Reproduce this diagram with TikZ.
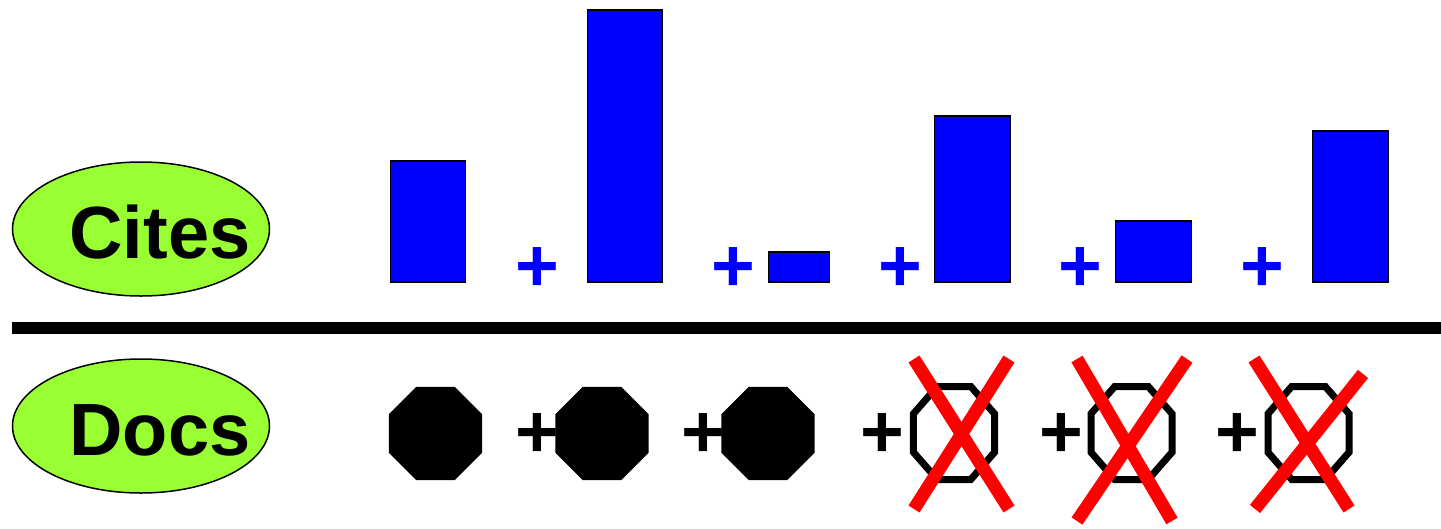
\documentclass[tikz,border=0pt]{standalone}
\usepackage{fontspec}
\setmainfont{Liberation Sans}
\usepackage{xcolor}
\definecolor{TagGreen}{HTML}{99FF33}
\definecolor{BarBlue}{HTML}{0000FF}
\definecolor{StrikeRed}{HTML}{FF0000}
\usetikzlibrary{shapes.geometric}
\tikzset{
  tagoval/.style={
    ellipse,
    draw=black,
    fill=TagGreen,
    line width=1.5pt,
    minimum width=257pt,
    minimum height=134pt,
    inner sep=0pt
  },
  tagtext/.style={
    anchor=base,
    font=\fontsize{74}{78}\selectfont\bfseries,
    inner sep=0pt
  },
  citebar/.style={
    draw=black,
    fill=BarBlue,
    line width=1.5pt,
    anchor=south,
    inner sep=0pt
  },
  sumsign/.style={
    anchor=base,
    font=\fontsize{75}{78}\selectfont\bfseries,
    inner sep=0pt
  },
  docfull/.style={
    regular polygon,
    regular polygon sides=8,
    fill=black,
    minimum size=100.7pt,
    inner sep=0pt
  },
  docopen/.style={
    regular polygon,
    regular polygon sides=8,
    draw=black,
    line width=7pt,
    minimum size=87.7pt,
    yscale=1.148,
    transform shape,
    inner sep=0pt
  },
  docstrike/.style={
    draw=StrikeRed,
    line width=13pt
  },
  divider/.style={
    draw=black,
    line width=12pt
  }
}

\begin{document}
\begin{tikzpicture}[x=1pt,y=-1pt]
  \useasboundingbox (0,0) rectangle (1441,528);
  % labels on the left
  \node[tagoval] (citesoval) at (141,229) {};
  \node[tagtext] (citeslabel) at (160,258) {Cites};
  \node[tagoval] (docsoval) at (141,426) {};
  \node[tagtext] (docslabel) at (160,455) {Docs};
  % divider
  \coordinate (divleft) at (12,328);
  \coordinate (divright) at (1441,328);
  \draw[divider] (divleft) -- (divright);
  % citation bars
  \foreach \i/\cx/\w/\h in {1/428/75/121,2/625/75/272,3/799/61/30,4/972.5/76/166,5/1153.5/76/61,6/1350.5/76/151}{
    \node[citebar,minimum width=\w pt,minimum height=\h pt] (cite\i) at (\cx,282.5) {};
  }
  \foreach \i/\cx in {2/537,3/733,4/900,5/1080,6/1262}{
    \node[sumsign,text=BarBlue] (citeplus\i) at (\cx,291) {+};
  }
  % documents
  \foreach \i/\cx in {1/435.5,2/602,3/768}{
    \node[docfull] (doc\i) at (\cx,433.5) {};
  }
  \foreach \i/\cx in {4/954,5/1131.5,6/1308.5}{
    \node[docopen] (doc\i) at (\cx,433) {};
  }
  \foreach \i/\cx in {2/537,3/703,4/882.5,5/1061,6/1237}{
    \node[sumsign] (docplus\i) at (\cx,457.5) {+};
  }
  % struck out documents
  \draw[docstrike] (914,359) -- (1009,509);
  \draw[docstrike] (1009,359) -- (914,509);
  \draw[docstrike] (1077,359) -- (1172,521);
  \draw[docstrike] (1187,359) -- (1077,521);
  \draw[docstrike] (1254,359) -- (1349,509);
  \draw[docstrike] (1363,374) -- (1255,509);
\end{tikzpicture}
\end{document}
